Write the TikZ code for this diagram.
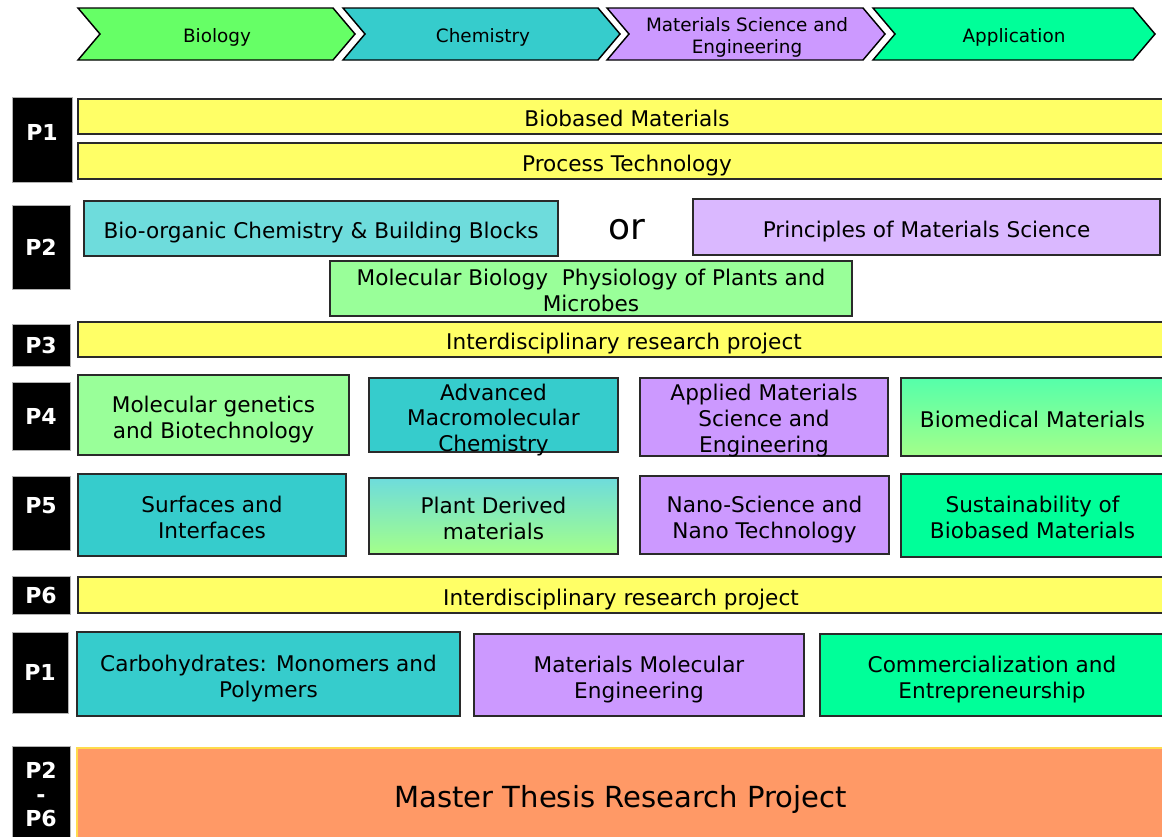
\documentclass[tikz,border=0pt]{standalone}
\usepackage{fontspec}
\setmainfont{DejaVu Sans}

\definecolor{ylw}{HTML}{FFFF66}
\definecolor{bio}{HTML}{66FF66}
\definecolor{chem}{HTML}{36CCCC}
\definecolor{chemlight}{HTML}{6EDCDC}
\definecolor{mat}{HTML}{CC99FF}
\definecolor{matlight}{HTML}{DAB8FF}
\definecolor{app}{HTML}{00FF99}
\definecolor{lgreen}{HTML}{99FF99}
\definecolor{mint}{HTML}{55FFAA}
\definecolor{thesis}{HTML}{FF9966}
\definecolor{edge}{HTML}{2A2A2A}

% invisible struts giving every text block the same line box
\newcommand{\boxtop}{\rule{0pt}{1.2em}}
\newcommand{\boxbot}{\rule[-0.24em]{0pt}{0pt}}

\tikzset{
  % size of a box, given in picture units (1 unit = 0.75pt)
  wh/.style 2 args={minimum width=#1*0.75pt, minimum height=#2*0.75pt},
  box/.style={draw=edge, line width=1.1pt, inner sep=0pt, align=center,
    font=\fontsize{16.2}{19.5}\selectfont},
  % text laid over a box whose lines fill it to the brim
  boxtext/.style={inner sep=0pt, align=center, font=\fontsize{16.2}{19.2}\selectfont},
  plabel/.style={fill=black, draw=gray!60, line width=0.4pt, inner sep=0pt,
    text=white, align=center, font=\bfseries\fontsize{16.5}{18}\selectfont},
  chev/.style={draw=black, line width=1.1pt},
  chevtext/.style={align=center, font=\fontsize{13.8}{16.5}\selectfont},
}

\begin{document}
\begin{tikzpicture}[x=0.75pt,y=-0.75pt]
\useasboundingbox[fill=white] (0,0) rectangle (1162,836);

% stage chevrons across the top
\filldraw[chev,fill=bio]  (78,8)  -- (333,8)  -- (355,34)  -- (333,60)  -- (78,60)  -- (100,34) -- cycle;
\filldraw[chev,fill=chem] (343,8) -- (598,8)  -- (620,34)  -- (598,60)  -- (343,60) -- (365,34) -- cycle;
\filldraw[chev,fill=mat]  (607,8) -- (863,8)  -- (885,34)  -- (863,60)  -- (607,60) -- (629,34) -- cycle;
\filldraw[chev,fill=app]  (873,8) -- (1133,8) -- (1155,34) -- (1133,60) -- (873,60) -- (895,34) -- cycle;
\node[chevtext] (sbio)  at (217,37) {Biology};
\node[chevtext] (schem) at (483,37) {Chemistry};
\node[chevtext] (smat)  at (747,37) {Materials Science and\\Engineering};
\node[chevtext] (sapp)  at (1014,37) {Application};

% period P1
\node[plabel, wh={60}{85}, text depth=10.5pt] (pa) at (42,139.5) {P1};
\node[box, fill=ylw, wh={1098}{35}] (bbm)  at (627,116.5) {\boxtop Biobased Materials\boxbot};
\node[box, fill=ylw, wh={1098}{36}] (ptec) at (627,161) {\boxtop Process Technology\boxbot};

% period P2
\node[plabel, wh={58}{84}] (pb) at (41,247) {P2};
\node[box, fill=chemlight, wh={474}{55}] (boc) at (321,228.5) {\boxtop Bio-organic Chemistry \& Building Blocks\boxbot};
\node[font=\fontsize{27}{29}\selectfont] (or) at (627,229.5) {or};
\node[box, fill=matlight, wh={467}{56}] (pms) at (926.5,227) {\boxtop Principles of Materials Science\boxbot};
\node[box, fill=lgreen, wh={522}{55}] (mbp) at (591,288.5) {};
\node[boxtext, font=\fontsize{16.2}{19.5}\selectfont] (mbpt) at (591,290) {Molecular Biology\ \ Physiology of Plants and\\Microbes};

% period P3
\node[plabel, wh={58}{42}] (pc) at (41,345) {P3};
\node[box, fill=ylw, wh={1092}{35}] (irp1) at (624,339.5) {\boxtop Interdisciplinary research project\boxbot};

% period P4
\node[plabel, wh={58}{68}] (pd) at (41,416) {P4};
\node[box, fill=lgreen, wh={271}{80}] (mgb) at (213.5,415) {\boxtop Molecular genetics\\and Biotechnology\boxbot};
\node[box, fill=chem, wh={249}{74}] (amc) at (493.5,415) {};
\node[boxtext] (amct) at (493.5,420) {Advanced\\Macromolecular\\Chemistry};
\node[box, fill=mat, wh={248}{78}] (amse) at (764,417) {};
\node[boxtext] (amset) at (764,420.5) {Applied Materials\\Science and\\Engineering};
\node[box, top color=mint, bottom color=lgreen!90!yellow, wh={263}{78}] (bmm) at (1032.5,417) {\boxtop Biomedical Materials\boxbot};

% period P5
\node[plabel, wh={58}{74}, text depth=12pt] (pe) at (41,513) {P5};
\node[box, fill=chem, wh={268}{82}] (sfi) at (212,515) {\boxtop Surfaces and\\Interfaces\boxbot};
\node[box, top color=chemlight, bottom color=lgreen!90!yellow, wh={249}{76}] (pdm) at (493.5,516) {\boxtop Plant Derived\\materials\boxbot};
\node[box, fill=mat, wh={249}{78}] (nsn) at (764.5,515) {\boxtop Nano-Science and\\Nano Technology\boxbot};
\node[box, fill=app, wh={263}{83}] (sbm) at (1032.5,515.5) {\boxtop Sustainability of\\Biobased Materials\boxbot};

% period P6
\node[plabel, wh={58}{38}] (pf) at (41,595) {P6};
\node[box, fill=ylw, wh={1086}{36}] (irp2) at (621,595) {\boxtop Interdisciplinary research project\boxbot};

% second year, period P1
\node[plabel, wh={56}{81}] (pg) at (40,672.5) {P1};
\node[box, fill=chem, wh={383}{84}] (cmp) at (268.5,674) {\boxtop Carbohydrates: Monomers and\\Polymers\boxbot};
\node[box, fill=mat, wh={330}{82}] (mme) at (639,675) {\boxtop Materials Molecular\\Engineering\boxbot};
\node[box, fill=app, wh={344}{82}] (cae) at (992,675) {\boxtop Commercialization and\\Entrepreneurship\boxbot};

% thesis, periods P2 to P6
\node[plabel, wh={58}{96}, font=\bfseries\fontsize{16.5}{18}\selectfont] (ph) at (41,794) {P2\\-\\P6};
\node[box, draw=orange!40!yellow!70, line width=0.8pt, fill=thesis, wh={1087}{92},
      font=\fontsize{21.8}{24}\selectfont] (mtr) at (620.5,794) {\boxtop Master Thesis Research Project\boxbot};
\end{tikzpicture}
\end{document}
